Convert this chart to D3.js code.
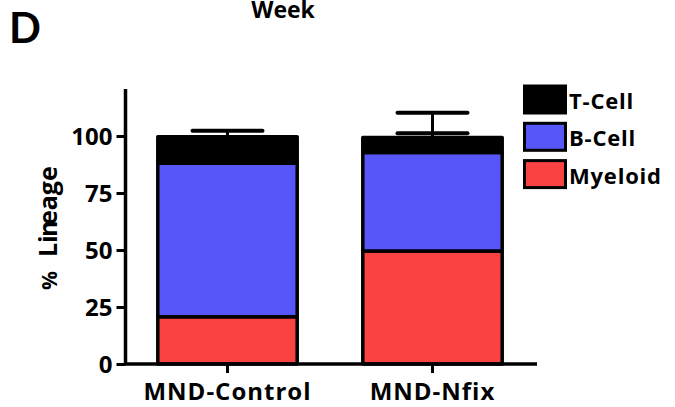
<!DOCTYPE html>
<html><head><meta charset="utf-8">
<script src="https://cdn.jsdelivr.net/npm/d3@7"></script>
<style>
html,body{margin:0;padding:0;background:#fff;}
text{font-family:"Open Sans",Lato,sans-serif;font-weight:bold;fill:#000;}
</style></head>
<body><svg id="c" width="675" height="407"></svg>
<script>
const categories = ["MND-Control", "MND-Nfix"];
const seriesNames = ["Myeloid", "B-Cell", "T-Cell"];
const myeloid = [20.7, 49.6];
const bCell = [67.3, 43.2];
const tCell = [11.7, 6.5];
const errorCaps = [[102.3], [101.2, 110.2]];
const yTicks = [0, 25, 50, 75, 100];
const colors = {"Myeloid": "#F94343", "B-Cell": "#5757F9", "T-Cell": "#000000"};
const legendOrder = ["T-Cell", "B-Cell", "Myeloid"];

const svg = d3.select("#c");
const data = categories.map((c, i) => ({cat: c, "Myeloid": myeloid[i], "B-Cell": bCell[i], "T-Cell": tCell[i]}));
const stack = d3.stack().keys(seriesNames)(data);

const x = d3.scaleBand().domain(categories).range([125, 535]).paddingInner(0.32).paddingOuter(0.16);
const y = d3.scaleLinear().domain([0, 120]).range([364, 90.4]);

// bars
stack.forEach(layer => {
  svg.append("g").selectAll("rect").data(layer).join("rect")
    .attr("x", d => x(d.data.cat))
    .attr("y", d => y(d[1]))
    .attr("width", x.bandwidth())
    .attr("height", d => y(d[0]) - y(d[1]))
    .attr("fill", colors[layer.key])
    .attr("stroke", "#000").attr("stroke-width", 3.5).attr("stroke-linejoin", "round");
});

// error bars
const totals = data.map(d => d["Myeloid"] + d["B-Cell"] + d["T-Cell"]);
categories.forEach((c, i) => {
  const cx = x(c) + x.bandwidth() / 2;
  const top = d3.max(errorCaps[i]);
  svg.append("line").attr("x1", cx).attr("x2", cx).attr("y1", y(totals[i])).attr("y2", y(top))
    .attr("stroke", "#000").attr("stroke-width", 3);
  errorCaps[i].forEach(v => {
    svg.append("line").attr("x1", cx - 35).attr("x2", cx + 35).attr("y1", y(v)).attr("y2", y(v))
      .attr("stroke", "#000").attr("stroke-width", 4).attr("stroke-linecap", "round");
  });
});

const FONT = "Open Sans";
// y axis
const yAxis = svg.append("g").attr("transform", "translate(125.5,0)")
  .call(d3.axisLeft(y).tickValues(yTicks).tickSize(9).tickPadding(4).tickFormat(d3.format("d")));
yAxis.select(".domain").attr("d", `M0,${y(0)}V${y(120)-1.5}`).attr("stroke-width", 3.5);
yAxis.selectAll(".tick line").attr("stroke-width", 3);
yAxis.selectAll(".tick text").attr("font-size", 24).attr("dy", "0.36em")
  .style("font-family", FONT).style("font-weight", "bold");

// x axis
const xAxis = svg.append("g").attr("transform", `translate(0,${y(0)})`)
  .call(d3.axisBottom(x).tickSize(9).tickPadding(10));
xAxis.select(".domain").attr("d", "M124,0H537").attr("stroke-width", 3.5);
xAxis.selectAll(".tick line").attr("stroke-width", 3);
xAxis.selectAll(".tick text").attr("font-size", 24).attr("y", 36).attr("dy", 0)
  .style("font-family", FONT).style("font-weight", "bold").style("letter-spacing", "1px");

// y label (rotated; overlapping "n"/"e" as in the original)
const yl = svg.append("text").attr("transform", "translate(57,0) rotate(-90)")
  .attr("font-size", 25).attr("text-anchor", "start");
yl.append("tspan").attr("x", -290).attr("font-size", 21).text("%");
yl.append("tspan").attr("x", -257).text("Li");
yl.append("tspan").attr("x", -237).text("n");
yl.append("tspan").attr("x", -225).text("eage");

// title and panel letter
svg.append("text").attr("x", 283).attr("y", 18).attr("text-anchor", "middle").attr("font-size", 23).text("Week");
svg.append("text").attr("x", 9).attr("y", 43).attr("font-size", 42).style("font-family", "Lato").text("D");

// legend
legendOrder.forEach((k, i) => {
  const ly = 86 + i * 37.3;
  svg.append("rect").attr("x", 524.5).attr("y", ly).attr("width", 41).attr("height", 27)
    .attr("fill", colors[k]).attr("stroke", "#000").attr("stroke-width", 3);
  svg.append("text").attr("x", 569).attr("y", ly + 23).attr("font-size", 22).style("letter-spacing", "0.8px").text(k);
});
</script></body></html>
